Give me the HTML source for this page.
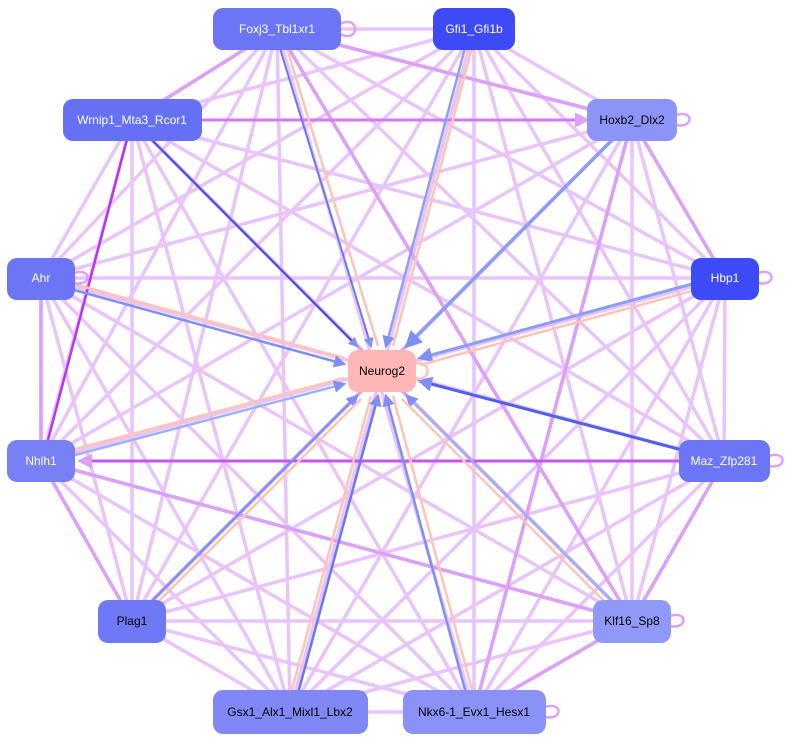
<!DOCTYPE html>
<html><head><meta charset="utf-8"><style>
html,body{margin:0;padding:0;background:#fff;width:802px;height:742px;overflow:hidden}
svg{display:block}
text{font-family:"Liberation Sans",sans-serif;font-size:12px}
</style></head><body>
<svg width="802" height="742" viewBox="0 0 802 742" xmlns="http://www.w3.org/2000/svg">
<defs>
<marker id="ab" markerWidth="5" markerHeight="5" refX="4" refY="2.5" orient="auto" markerUnits="strokeWidth"><path d="M0,0L5,2.5L0,5z" fill="#7f8ff5"/></marker>
<marker id="ap" markerWidth="5" markerHeight="5" refX="4" refY="2.5" orient="auto" markerUnits="strokeWidth"><path d="M0,0L5,2.5L0,5z" fill="#dca0f8"/></marker>
</defs>
<g stroke="#e8c4fb" stroke-width="3.5" fill="none">
<path d="M277,29L474,29M277,29L132,120M277,29L632,120M277,29L41,278M277,29L725,278M277,29L41,461M277,29L724,461M277,29L132,621M277,29L632,621M277,29L290,712M277,29L474,712"/>
<path d="M474,29L132,120M474,29L632,120M474,29L41,278M474,29L725,278M474,29L41,461M474,29L724,461M474,29L132,621M474,29L632,621M474,29L290,712M474,29L474,712"/>
<path d="M132,120L41,278M132,120L725,278M132,120L41,461M132,120L724,461M132,120L132,621M132,120L632,621M132,120L290,712M132,120L474,712"/>
<path d="M632,120L41,278M632,120L725,278M632,120L41,461M632,120L724,461M632,120L132,621M632,120L632,621M632,120L290,712M632,120L474,712"/>
<path d="M41,278L725,278M41,278L41,461M41,278L724,461M41,278L132,621M41,278L632,621M41,278L290,712M41,278L474,712"/>
<path d="M725,278L41,461M725,278L724,461M725,278L132,621M725,278L632,621M725,278L290,712M725,278L474,712"/>
<path d="M41,461L132,621M41,461L632,621M41,461L290,712M41,461L474,712"/>
<path d="M724,461L132,621M724,461L632,621M724,461L290,712M724,461L474,712"/>
<path d="M132,621L632,621M132,621L290,712M132,621L474,712M632,621L290,712M632,621L474,712M290,712L474,712"/>
</g>
<g stroke="#dca0f8" stroke-width="3.5" fill="none">
<path d="M277,29L632,120M277,29L632,621M132,120L632,621M277,29L132,120M632,120L725,278M632,120L474,712M41,461L632,621M724,461L632,621M41,278L41,461M132,621L41,461M632,120L132,621M474,712L632,621"/>
</g>
<path d="M132,120L587,120" stroke="#d277f5" stroke-width="3" marker-end="url(#ap)"/>
<path d="M724,461L80,461" stroke="#c455f2" stroke-width="3" marker-end="url(#ap)"/>
<path d="M132,120L48,440" stroke="#b835f0" stroke-width="2.5"/>
<g fill="none" stroke-width="2.5">
<path d="M281,29L378,346" stroke="#ffc3b8"/>
<path d="M274,29L371,346" stroke="#6a78ee" stroke-width="2" marker-end="url(#ab)"/>
<path d="M470,29L386,346" stroke="#8fa0f0" marker-end="url(#ab)"/>
<path d="M477,29L393,346" stroke="#ffc3b8"/>
<path d="M132,120L357,346" stroke="#3a52e6" stroke-width="2" marker-end="url(#ab)"/>
<path d="M632,120L407,346" stroke="#8a9ef2" stroke-width="3.5" marker-end="url(#ab)"/>
<path d="M41,275L344,358" stroke="#ffc3b8"/>
<path d="M41,281L344,364" stroke="#7f8ff2" marker-end="url(#ab)"/>
<path d="M725,275L420,358" stroke="#8a9ef2" stroke-width="3" marker-end="url(#ab)"/>
<path d="M725,282L420,365" stroke="#ffc3b8"/>
<path d="M41,458L344,378" stroke="#ffc3b8"/>
<path d="M41,464L344,384" stroke="#a0b0f5" marker-end="url(#ab)"/>
<path d="M724,461L420,381" stroke="#4d60ee" stroke-width="3" marker-end="url(#ab)"/>
<path d="M132,621L357,396" stroke="#7f8ff2" marker-end="url(#ab)"/>
<path d="M136,624L361,399" stroke="#ffc3b8"/>
<path d="M632,621L407,396" stroke="#a0b0f5" marker-end="url(#ab)"/>
<path d="M627,624L402,399" stroke="#ffc3b8"/>
<path d="M286,712L371,396" stroke="#ffc3b8"/>
<path d="M293,712L378,396" stroke="#6a78ee" marker-end="url(#ab)"/>
<path d="M471,712L386,396" stroke="#7f8ff2" marker-end="url(#ab)"/>
<path d="M478,712L393,396" stroke="#ffc3b8"/>
<path d="M414,364c18,-6 18,20 0,14" stroke="#ffc3b8"/>
<path d="M340,24c20,-10 20,20 0,10M676,115c18,-6 18,14 0,10M758,273c18,-6 18,14 0,10M769,456c18,-6 18,14 0,10M670,616c18,-6 18,14 0,10M545,707c18,-6 18,14 0,10M74,273c18,-6 18,14 0,10" stroke="#dca0f8"/>
</g>
<g font-size="12">
<rect x="213" y="8" width="128" height="42" rx="10" fill="#6b75f5"/><text x="277" y="33" text-anchor="middle" fill="#fff">Foxj3_Tbl1xr1</text>
<rect x="433" y="8" width="82" height="42" rx="10" fill="#3d4af6"/><text x="474" y="33" text-anchor="middle" fill="#fff">Gfi1_Gfi1b</text>
<rect x="63" y="99" width="139" height="42" rx="10" fill="#6670f5"/><text x="132" y="124" text-anchor="middle" fill="#fff">Wrnip1_Mta3_Rcor1</text>
<rect x="587" y="99" width="90" height="42" rx="10" fill="#8c95f7"/><text x="632" y="124" text-anchor="middle" fill="#000">Hoxb2_Dlx2</text>
<rect x="7" y="258" width="68" height="42" rx="10" fill="#6b75f5"/><text x="41" y="282" text-anchor="middle" fill="#fff">Ahr</text>
<rect x="691" y="258" width="68" height="42" rx="10" fill="#3d4af8"/><text x="725" y="282" text-anchor="middle" fill="#fff">Hbp1</text>
<rect x="348" y="350" width="68" height="42" rx="10" fill="#ffb6b6"/><text x="382" y="375" text-anchor="middle" fill="#000">Neurog2</text>
<rect x="7" y="440" width="68" height="42" rx="10" fill="#7780f5"/><text x="41" y="465" text-anchor="middle" fill="#fff">Nhlh1</text>
<rect x="679" y="440" width="91" height="42" rx="10" fill="#6b75f5"/><text x="724" y="465" text-anchor="middle" fill="#fff">Maz_Zfp281</text>
<rect x="98" y="600" width="68" height="43" rx="10" fill="#7079f5"/><text x="132" y="625" text-anchor="middle" fill="#000">Plag1</text>
<rect x="593" y="600" width="78" height="43" rx="10" fill="#9099f7"/><text x="632" y="625" text-anchor="middle" fill="#000">Klf16_Sp8</text>
<rect x="213" y="690" width="155" height="44" rx="10" fill="#8088f5"/><text x="290" y="716" text-anchor="middle" fill="#000">Gsx1_Alx1_Mixl1_Lbx2</text>
<rect x="403" y="690" width="143" height="44" rx="10" fill="#8a92f7"/><text x="474" y="716" text-anchor="middle" fill="#000">Nkx6-1_Evx1_Hesx1</text>
</g>
</svg>
</body></html>
